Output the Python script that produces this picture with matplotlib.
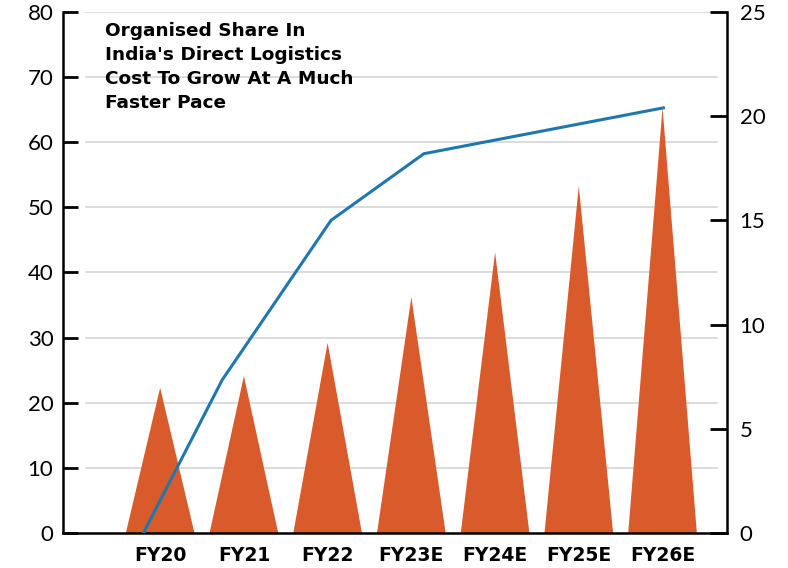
import matplotlib.pyplot as plt
import numpy as np

years = ["FY20", "FY21", "FY22", "FY23E", "FY24E", "FY25E", "FY26E"]
bar_vals = [22.3, 24.1, 29.2, 36.2, 43.1, 53.3, 65.3]

# line vertices sit between categories in the source picture
line_x = [-0.2, 0.74, 2.04, 3.15, 6.01]
line_y = [0.0, 7.34, 15.0, 18.2, 20.4]

title = "Organised Share In\nIndia's Direct Logistics\nCost To Grow At A Much\nFaster Pace"

orange = "#D95B2B"
blue = "#2077AE"

plt.rcParams['font.family'] = ['Lato', 'DejaVu Sans']

fig = plt.figure(figsize=(7.88, 5.68), dpi=100)
ax = fig.add_axes([0.080, 0.0616, 0.8426, 0.9173])

w = 0.82
for i, v in enumerate(bar_vals):
    ax.fill([i - w / 2, i, i + w / 2], [0, v, 0], color=orange, lw=0, zorder=2)

for g in range(10, 90, 10):
    ax.axhline(g, xmin=0.035, xmax=0.985, color="#d6d6d6", lw=1.2, zorder=1)

ax.set_xlim(-1.16, 6.77)
ax.set_ylim(0, 80)
ax.set_yticks(range(0, 90, 10))
ax.set_xticks(range(len(years)))
ax.set_xticklabels(years, fontweight="bold", fontsize=13.5, family="DejaVu Sans")
ax.tick_params(axis="x", length=0, pad=9)
ax.tick_params(axis="y", direction="in", length=11, width=2, labelsize=16, pad=7)
for s in ["top", "right"]:
    ax.spines[s].set_visible(False)
for s in ["left", "bottom"]:
    ax.spines[s].set_linewidth(1.8)

ax2 = ax.twinx()
ax2.plot(line_x, line_y, color=blue, lw=2.2, zorder=3)
ax2.set_ylim(0, 25)
ax2.set_yticks(range(0, 30, 5))
ax2.tick_params(axis="y", direction="in", length=12, width=2, labelsize=16, pad=9)
for s in ["top", "left", "bottom"]:
    ax2.spines[s].set_visible(False)
ax2.spines["right"].set_linewidth(1.8)

ax.text(0.063, 0.98, title, transform=ax.transAxes, ha="left", va="top",
        fontsize=13.3, fontweight="bold", family="DejaVu Sans", linespacing=1.42)

plt.savefig("out.png", dpi=100)
